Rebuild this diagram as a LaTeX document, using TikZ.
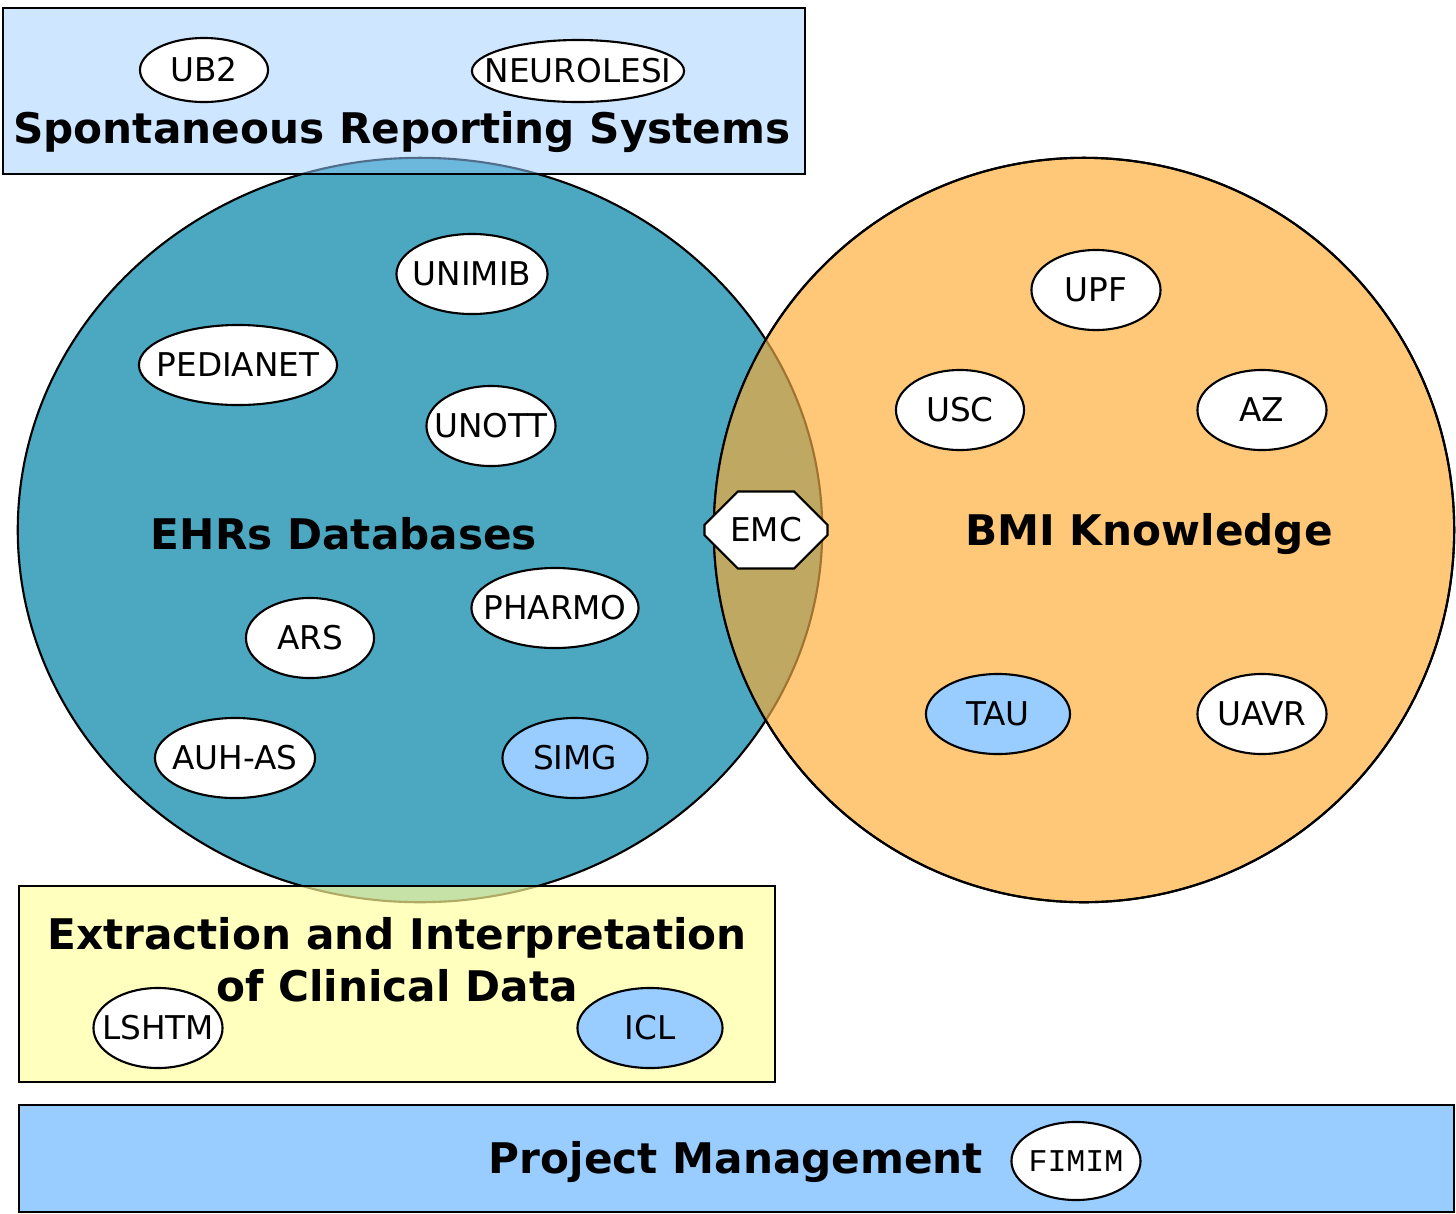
\documentclass[tikz,border=0pt]{standalone}
\usepackage{fontspec}
\setmainfont{DejaVu Sans}
\newfontfamily\monofont{Liberation Mono}
\usetikzlibrary{positioning, shapes.geometric, shapes.misc}
\definecolor{ehrteal}{RGB}{76,168,192}
\definecolor{bmiorange}{RGB}{254,200,120}
\definecolor{botholive}{RGB}{191,168,97}
\definecolor{oliveedge}{RGB}{160,115,50}
\definecolor{srsblue}{RGB}{206,230,255}
\definecolor{srsmix}{RGB}{107,184,220}
\definecolor{srsedge}{RGB}{80,110,140}
\definecolor{eicyellow}{RGB}{255,255,190}
\definecolor{eicmix}{RGB}{198,226,166}
\definecolor{eicedge}{RGB}{175,170,100}
\definecolor{pmblue}{RGB}{153,204,255}
% label that does not widen its ellipse
\newcommand{\orgname}[1]{\makebox[0pt]{#1}}

\begin{document}
\begin{tikzpicture}[x=0.01cm, y=-0.01cm, line width=0.6pt,
  partner/.style={draw, ellipse, fill=white, inner sep=0pt, minimum height=0.8cm, font=\fontsize{9.3}{11}\selectfont},
  leader/.style={partner, fill=pmblue},
  areatitle/.style={font=\fontsize{12}{14.8}\selectfont\bfseries, align=center}]
  \useasboundingbox (0,0) rectangle (1456,1214);

  % EHRs and BMI circles
  \draw[fill=ehrteal] (420,530) ellipse [x radius=4.02cm, y radius=3.72cm];
  \draw[fill=bmiorange] (1084,530) ellipse [x radius=3.70cm, y radius=3.72cm];
  \begin{scope}
    \clip (1084,530) ellipse [x radius=3.70cm, y radius=3.72cm];
    \fill[botholive] (420,530) ellipse [x radius=4.02cm, y radius=3.72cm];
    \draw[oliveedge] (420,530) ellipse [x radius=4.02cm, y radius=3.72cm];
  \end{scope}
  \draw (1084,530) ellipse [x radius=3.70cm, y radius=3.72cm];

  % Spontaneous Reporting Systems
  \fill[srsblue] (3,8) rectangle (805,174);
  \begin{scope}
    \clip (3,8) rectangle (805,174);
    \fill[srsmix] (420,530) ellipse [x radius=4.02cm, y radius=3.72cm];
    \draw[srsedge] (420,530) ellipse [x radius=4.02cm, y radius=3.72cm];
  \end{scope}
  \draw (3,8) rectangle (805,174);

  % Extraction and Interpretation
  \fill[eicyellow] (19,886) rectangle (775,1082);
  \begin{scope}
    \clip (19,886) rectangle (775,1082);
    \fill[eicmix] (420,530) ellipse [x radius=4.02cm, y radius=3.72cm];
    \draw[eicedge] (420,530) ellipse [x radius=4.02cm, y radius=3.72cm];
  \end{scope}
  \draw (19,886) rectangle (775,1082);

  % Project Management
  \draw[fill=pmblue] (19,1105) rectangle (1454,1212);

  % area titles
  \node[areatitle] (srs) at (402,132) {Spontaneous Reporting Systems};
  \node[areatitle] (ehr) at (344,534) {EHRs Databases};
  \node[areatitle] (bmi) at (1149,534) {BMI Knowledge};
  \node[areatitle] (eic) at (397,960) {Extraction and Interpretation\\of Clinical Data};
  \node[areatitle] (pm) at (736,1162) {Project Management};

  % partners
  \node[partner, minimum width=1.28cm, minimum height=0.64cm] (ub2) at (204,70) {\orgname{UB2}};
  \node[partner, minimum width=2.12cm, minimum height=0.62cm] (neurolesi) at (578,71) {\orgname{NEUROLESI}};
  \node[partner, minimum width=1.51cm] (unimib) at (472,274) {\orgname{UNIMIB}};
  \node[partner, minimum width=1.98cm] (pedianet) at (238,365) {\orgname{PEDIANET}};
  \node[partner, minimum width=1.29cm] (unott) at (491,426) {\orgname{UNOTT}};
  \node[partner, minimum width=1.28cm] (ars) at (310,638) {\orgname{ARS}};
  \node[partner, minimum width=1.67cm] (pharmo) at (555,608) {\orgname{PHARMO}};
  \node[partner, minimum width=1.60cm] (auhas) at (235,758) {\orgname{AUH-AS}};
  \node[leader, minimum width=1.45cm] (simg) at (575,758) {\orgname{SIMG}};
  \node[partner, minimum width=1.29cm] (upf) at (1096,290) {\orgname{UPF}};
  \node[partner, minimum width=1.28cm] (usc) at (960,410) {\orgname{USC}};
  \node[partner, minimum width=1.29cm] (az) at (1262,410) {\orgname{AZ}};
  \node[leader, minimum width=1.44cm] (tau) at (998,714) {\orgname{TAU}};
  \node[partner, minimum width=1.29cm] (uavr) at (1262,714) {\orgname{UAVR}};
  \node[partner, minimum width=1.29cm] (lshtm) at (158,1028) {\orgname{LSHTM}};
  \node[leader, minimum width=1.45cm] (icl) at (650,1028) {\orgname{ICL}};
  \node[partner, minimum width=1.29cm, minimum height=0.78cm, font=\monofont\fontsize{9}{11}\selectfont] (fimim) at (1076,1161) {\orgname{FIMIM}};
  \node[draw, fill=white, chamfered rectangle, chamfered rectangle xsep=0.21cm, chamfered rectangle ysep=0.21cm,
    inner sep=0pt, minimum width=1.23cm, minimum height=0.77cm, font=\fontsize{9.3}{11}\selectfont] (emc) at (766,530) {EMC};
\end{tikzpicture}
\end{document}
